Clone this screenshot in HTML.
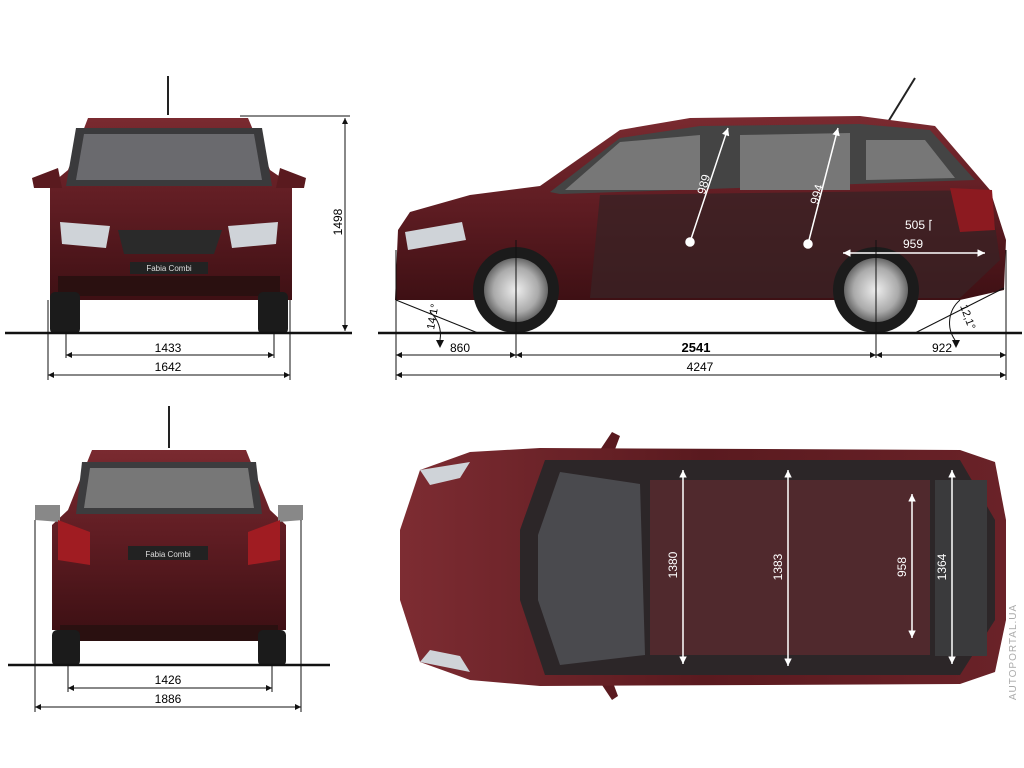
<!DOCTYPE html>
<html><head><meta charset="utf-8"><style>
html,body{margin:0;padding:0;background:#fff;}
svg{display:block;font-family:"Liberation Sans Narrow","Liberation Sans",sans-serif;}
</style></head><body>
<svg width="1024" height="768" viewBox="0 0 1024 768" xmlns="http://www.w3.org/2000/svg">
<defs>
<linearGradient id="bod" x1="0" y1="0" x2="0" y2="1">
<stop offset="0" stop-color="#7a2a30"/><stop offset="0.5" stop-color="#5e1c22"/><stop offset="1" stop-color="#3e1014"/></linearGradient>
<linearGradient id="top" x1="0" y1="0" x2="1" y2="0">
<stop offset="0" stop-color="#7d2c32"/><stop offset="0.5" stop-color="#5a1a1f"/><stop offset="1" stop-color="#6a2228"/></linearGradient>
<radialGradient id="rim"><stop offset="0" stop-color="#eee"/><stop offset="0.7" stop-color="#aaa"/><stop offset="1" stop-color="#666"/></radialGradient>
<marker id="a" viewBox="0 0 10 10" refX="10" refY="5" markerWidth="8" markerHeight="6" orient="auto-start-reverse"><path d="M0,0L10,5L0,10z" fill="#111"/></marker>
<marker id="w" viewBox="0 0 10 10" refX="10" refY="5" markerWidth="6" markerHeight="5" orient="auto-start-reverse"><path d="M0,0L10,5L0,10z" fill="#fff"/></marker>
</defs>

<!-- FRONT VIEW -->
<line x1="168" y1="76" x2="168" y2="115" stroke="#222" stroke-width="2"/>
<path d="M88,118 L248,118 L270,170 L292,185 L292,300 L50,300 L50,185 L68,170 Z" fill="url(#bod)"/>
<path d="M76,128 L262,128 L272,186 L66,186 Z" fill="#3a3a3c"/>
<path d="M84,134 L254,134 L262,180 L76,180 Z" fill="#6a6a6e"/>
<path d="M32,178 L58,168 L62,188 L34,188 Z" fill="#5a1a1f"/>
<path d="M306,178 L280,168 L276,188 L304,188 Z" fill="#5a1a1f"/>
<path d="M60,222 L110,226 L106,248 L62,244 Z" fill="#cfd3d8"/>
<path d="M278,222 L228,226 L232,248 L276,244 Z" fill="#cfd3d8"/>
<path d="M118,230 L222,230 L214,254 L124,254 Z" fill="#2a2a2a"/>
<rect x="130" y="262" width="78" height="12" fill="#222"/>
<text x="169" y="271" font-size="8" fill="#ddd" text-anchor="middle">Fabia Combi</text>
<rect x="58" y="276" width="222" height="20" fill="#2a1010"/>
<rect x="50" y="292" width="30" height="42" rx="5" fill="#1b1b1b"/>
<rect x="258" y="292" width="30" height="42" rx="5" fill="#1b1b1b"/>
<line x1="5" y1="333" x2="352" y2="333" stroke="#111" stroke-width="2.5"/>
<line x1="345" y1="118" x2="345" y2="331" stroke="#111" marker-start="url(#a)" marker-end="url(#a)"/>
<line x1="240" y1="116" x2="350" y2="116" stroke="#111"/>
<text x="342" y="222" font-size="12" transform="rotate(-90 342 222)" text-anchor="middle">1498</text>
<g stroke="#111">
<line x1="66" y1="333" x2="66" y2="358"/><line x1="274" y1="333" x2="274" y2="358"/>
<line x1="48" y1="300" x2="48" y2="380"/><line x1="290" y1="300" x2="290" y2="380"/>
<line x1="66" y1="355" x2="274" y2="355" marker-start="url(#a)" marker-end="url(#a)"/>
<line x1="48" y1="375" x2="290" y2="375" marker-start="url(#a)" marker-end="url(#a)"/>
</g>
<text x="168" y="352" font-size="12" text-anchor="middle">1433</text>
<text x="168" y="371" font-size="12" text-anchor="middle">1642</text>

<!-- SIDE VIEW -->
<line x1="888" y1="122" x2="915" y2="78" stroke="#222" stroke-width="2"/>
<path d="M398,230 L410,212 L470,195 L540,186 L620,130 L690,118 L860,116 L935,126 L990,190 L1006,240 L1004,290 L960,300 L395,300 Z" fill="url(#bod)"/>
<path d="M550,192 L620,138 L700,126 L860,124 L930,130 L975,180 L560,194 Z" fill="#444"/>
<path d="M565,190 L620,142 L700,135 L700,190 Z M740,135 L850,133 L850,190 L740,190 Z M866,140 L925,140 L955,178 L866,180 Z" fill="#777"/>
<path d="M600,195 L990,190 L1000,260 L960,298 L590,298 Z" fill="#3a2224" opacity="0.8"/>
<path d="M405,232 L462,222 L466,240 L408,250 Z" fill="#cfd3d8"/>
<path d="M950,188 L992,190 L995,230 L960,232 Z" fill="#8c1a20"/>
<circle cx="516" cy="290" r="43" fill="#1b1b1b"/><circle cx="516" cy="290" r="32" fill="url(#rim)"/>
<circle cx="876" cy="290" r="43" fill="#1b1b1b"/><circle cx="876" cy="290" r="32" fill="url(#rim)"/>
<g stroke="#fff" stroke-width="1.5" fill="#fff">
<line x1="690" y1="242" x2="728" y2="128" marker-end="url(#w)"/><circle cx="690" cy="242" r="4"/>
<line x1="808" y1="244" x2="838" y2="128" marker-end="url(#w)"/><circle cx="808" cy="244" r="4"/>
<line x1="843" y1="253" x2="985" y2="253" marker-start="url(#w)" marker-end="url(#w)"/>
</g>
<text x="705" y="195" font-size="12" fill="#fff" transform="rotate(-75 705 195)">989</text>
<text x="818" y="205" font-size="12" fill="#fff" transform="rotate(-75 818 205)">994</text>
<text x="905" y="229" font-size="12" fill="#fff">505 ⌈</text>
<text x="903" y="248" font-size="12" fill="#fff">959</text>
<line x1="378" y1="333" x2="1022" y2="333" stroke="#111" stroke-width="2.5"/>
<g stroke="#111" fill="none">
<line x1="396" y1="300" x2="478" y2="333"/><line x1="1004" y1="288" x2="915" y2="333"/>
<path d="M430,312 A30,30 0 0 1 440,340" /><path d="M960,300 A30,30 0 0 0 955,340"/>
<line x1="396" y1="250" x2="396" y2="380"/><line x1="1006" y1="250" x2="1006" y2="380"/>
<line x1="516" y1="240" x2="516" y2="358"/><line x1="876" y1="240" x2="876" y2="358"/>
<line x1="396" y1="355" x2="516" y2="355" marker-start="url(#a)" marker-end="url(#a)"/>
<line x1="516" y1="355" x2="876" y2="355" marker-start="url(#a)" marker-end="url(#a)"/>
<line x1="876" y1="355" x2="1006" y2="355" marker-start="url(#a)" marker-end="url(#a)"/>
<line x1="396" y1="375" x2="1006" y2="375" marker-start="url(#a)" marker-end="url(#a)"/>
</g>
<path d="M436,340 l4,8 l4,-8z M952,340 l4,8 l4,-8z" fill="#111"/>
<text x="434" y="330" font-size="11" transform="rotate(-80 434 330)">14,1°</text>
<text x="960" y="306" font-size="11" transform="rotate(70 960 306)">12,1°</text>
<text x="460" y="352" font-size="12" text-anchor="middle">860</text>
<text x="696" y="352" font-size="13" font-weight="bold" text-anchor="middle">2541</text>
<text x="942" y="352" font-size="12" text-anchor="middle">922</text>
<text x="700" y="371" font-size="12" text-anchor="middle">4247</text>

<!-- REAR VIEW -->
<line x1="169" y1="406" x2="169" y2="448" stroke="#222" stroke-width="2"/>
<path d="M92,450 L246,450 L270,510 L286,525 L286,630 L52,630 L52,525 L68,510 Z" fill="url(#bod)"/>
<path d="M82,462 L256,462 L262,514 L76,514 Z" fill="#3c3c3e"/>
<path d="M90,468 L248,468 L254,508 L84,508 Z" fill="#777"/>
<path d="M35,505 L60,505 L60,522 L35,520 Z M303,505 L278,505 L278,522 L303,520 Z" fill="#888"/>
<path d="M58,520 L90,532 L90,565 L58,560 Z M280,520 L248,532 L248,565 L280,560 Z" fill="#a01c22"/>
<rect x="128" y="546" width="80" height="14" fill="#222"/>
<text x="168" y="557" font-size="8" fill="#ddd" text-anchor="middle">Fabia Combi</text>
<rect x="60" y="625" width="218" height="16" fill="#2a1010"/>
<rect x="52" y="630" width="28" height="36" rx="5" fill="#1b1b1b"/>
<rect x="258" y="630" width="28" height="36" rx="5" fill="#1b1b1b"/>
<line x1="8" y1="665" x2="330" y2="665" stroke="#111" stroke-width="2.5"/>
<g stroke="#111">
<line x1="68" y1="665" x2="68" y2="692"/><line x1="272" y1="665" x2="272" y2="692"/>
<line x1="35" y1="520" x2="35" y2="712"/><line x1="301" y1="520" x2="301" y2="712"/>
<line x1="68" y1="688" x2="272" y2="688" marker-start="url(#a)" marker-end="url(#a)"/>
<line x1="35" y1="707" x2="301" y2="707" marker-start="url(#a)" marker-end="url(#a)"/>
</g>
<text x="168" y="684" font-size="12" text-anchor="middle">1426</text>
<text x="168" y="703" font-size="12" text-anchor="middle">1886</text>

<!-- TOP VIEW -->
<path d="M600,450 L612,432 L620,436 L614,452 Z M600,682 L612,700 L618,696 L612,680 Z" fill="#5a1a1f"/>
<path d="M420,470 L470,452 L540,448 L960,450 L995,462 L1006,520 L1006,620 L995,672 L960,684 L540,686 L470,680 L420,662 L400,600 L400,530 Z" fill="url(#top)"/>
<path d="M545,460 L960,460 L995,520 L995,620 L960,675 L545,675 L520,600 L520,530 Z" fill="#2c2628"/>
<path d="M560,472 L640,484 L645,655 L560,665 L538,600 L538,535 Z" fill="#4a4a4e"/>
<rect x="650" y="480" width="280" height="175" fill="#5a2a2e" opacity="0.8"/>
<rect x="935" y="480" width="52" height="176" fill="#3a3a3c"/>
<path d="M420,470 L470,462 L460,478 L430,485 Z M420,662 L470,672 L460,656 L430,650 Z" fill="#cfd3d8"/>
<g stroke="#fff" stroke-width="1.5">
<line x1="683" y1="470" x2="683" y2="664" marker-start="url(#w)" marker-end="url(#w)"/>
<line x1="788" y1="470" x2="788" y2="666" marker-start="url(#w)" marker-end="url(#w)"/>
<line x1="912" y1="494" x2="912" y2="638" marker-start="url(#w)" marker-end="url(#w)"/>
<line x1="952" y1="470" x2="952" y2="664" marker-start="url(#w)" marker-end="url(#w)"/>
</g>
<g font-size="12" fill="#fff" text-anchor="middle">
<text transform="translate(677 565) rotate(-90)">1380</text>
<text transform="translate(782 567) rotate(-90)">1383</text>
<text transform="translate(906 567) rotate(-90)">958</text>
<text transform="translate(946 567) rotate(-90)">1364</text>
</g>
<text transform="translate(1016 652) rotate(-90)" font-size="10" fill="#aaa" text-anchor="middle" letter-spacing="1">AUTOPORTAL.UA</text>
</svg>
</body></html>
